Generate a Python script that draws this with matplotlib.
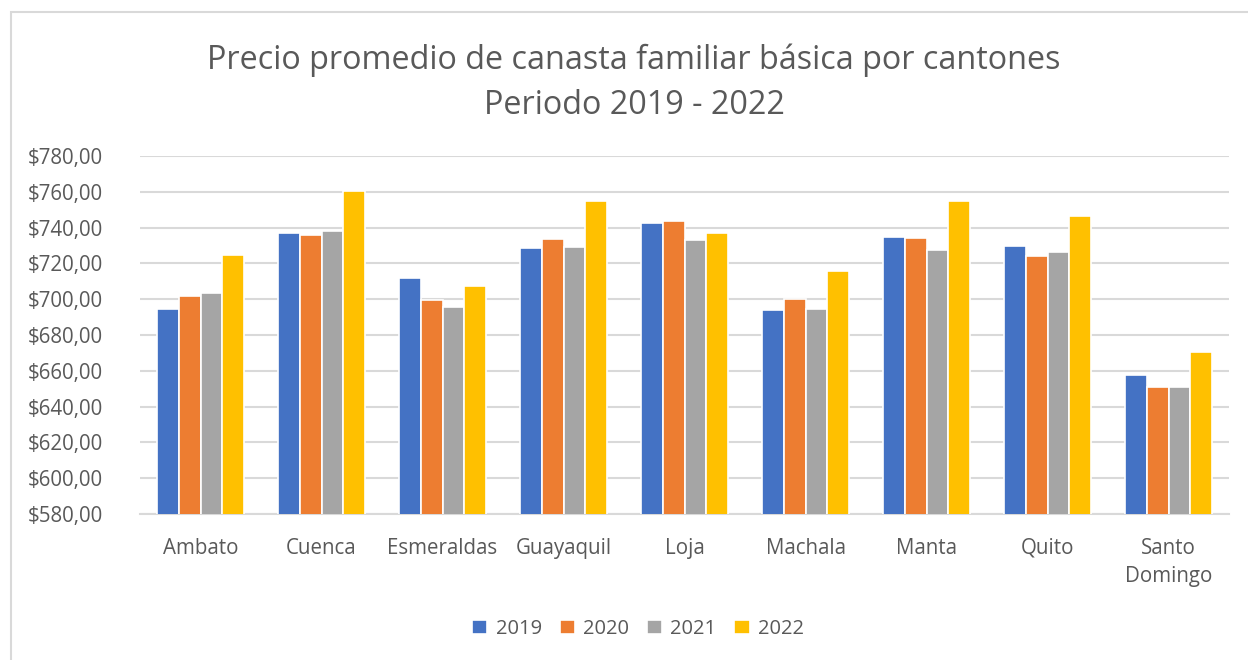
import numpy as np
import matplotlib.pyplot as plt
from matplotlib.patches import Rectangle
from matplotlib.ticker import FuncFormatter

cantones = ["Ambato", "Cuenca", "Esmeraldas", "Guayaquil", "Loja",
            "Machala", "Manta", "Quito", "Santo\nDomingo"]
years = ["2019", "2020", "2021", "2022"]

p2019 = [694.3, 737.0, 712.0, 728.4, 742.6, 694.0, 734.5, 729.7, 657.9]
p2020 = [701.8, 735.9, 699.6, 733.6, 743.7, 700.3, 734.2, 724.1, 651.1]
p2021 = [703.5, 738.3, 695.6, 728.9, 733.1, 694.7, 727.5, 726.4, 651.1]
p2022 = [724.7, 760.6, 707.5, 754.6, 737.0, 715.5, 754.6, 746.5, 670.6]

colors = ["#4472C4", "#ED7D31", "#A5A5A5", "#FFC000"]
txt = "#595959"

plt.rcParams['font.family'] = ['Open Sans', 'DejaVu Sans']

fig = plt.figure(figsize=(12.48, 6.6), dpi=100)
ax = fig.add_axes([0.1122, 0.2212, 0.8726, 0.5424])

# chart border (left/top visible in the reference)
fig.patches.append(Rectangle((11 / 1248, -0.1), 1.2, 1 - 12 / 660 + 0.1,
                             transform=fig.transFigure, fill=False,
                             edgecolor="#D9D9D9", linewidth=1.5))

x = np.arange(len(cantones))
w = 0.18
for i, (vals, c, yr) in enumerate(zip([p2019, p2020, p2021, p2022], colors, years)):
    ax.bar(x + (i - 1.5) * w, vals, width=w, color=c, edgecolor="white",
           linewidth=1.2, label=yr, zorder=3)

ax.set_ylim(580, 780)
ax.set_yticks(np.arange(580, 781, 20))
ax.yaxis.set_major_formatter(FuncFormatter(lambda v, p: "$%d,00" % v))
ax.set_xlim(-0.5, len(cantones) - 0.5)
ax.set_xticks(x)
ax.set_xticklabels(cantones, linespacing=1.45)
ax.grid(axis="y", color="#D9D9D9", linewidth=1.5, zorder=0)
for s in ["top", "right", "left"]:
    ax.spines[s].set_visible(False)
ax.spines["bottom"].set_color("#D9D9D9")
ax.spines["bottom"].set_linewidth(1.5)
ax.tick_params(length=0, labelsize=14.8, colors=txt)
ax.tick_params(axis="x", pad=17)
ax.tick_params(axis="y", pad=27)

fig.text(634 / 1248, 1 - 60 / 660, "Precio promedio de canasta familiar básica por cantones",
         ha="center", va="center", fontsize=23.3, color=txt)
fig.text(634 / 1248, 1 - 105 / 660, "Periodo 2019 - 2022",
         ha="center", va="center", fontsize=23.3, color=txt)

leg = fig.legend(loc="center", bbox_to_anchor=(638 / 1248, 1 - 629 / 660), ncol=4,
                 frameon=False, fontsize=14.5, handlelength=0.75, handleheight=0.75,
                 handletextpad=0.4, columnspacing=0.9)
for t in leg.get_texts():
    t.set_color(txt)

fig.savefig("out.png", dpi=100)
